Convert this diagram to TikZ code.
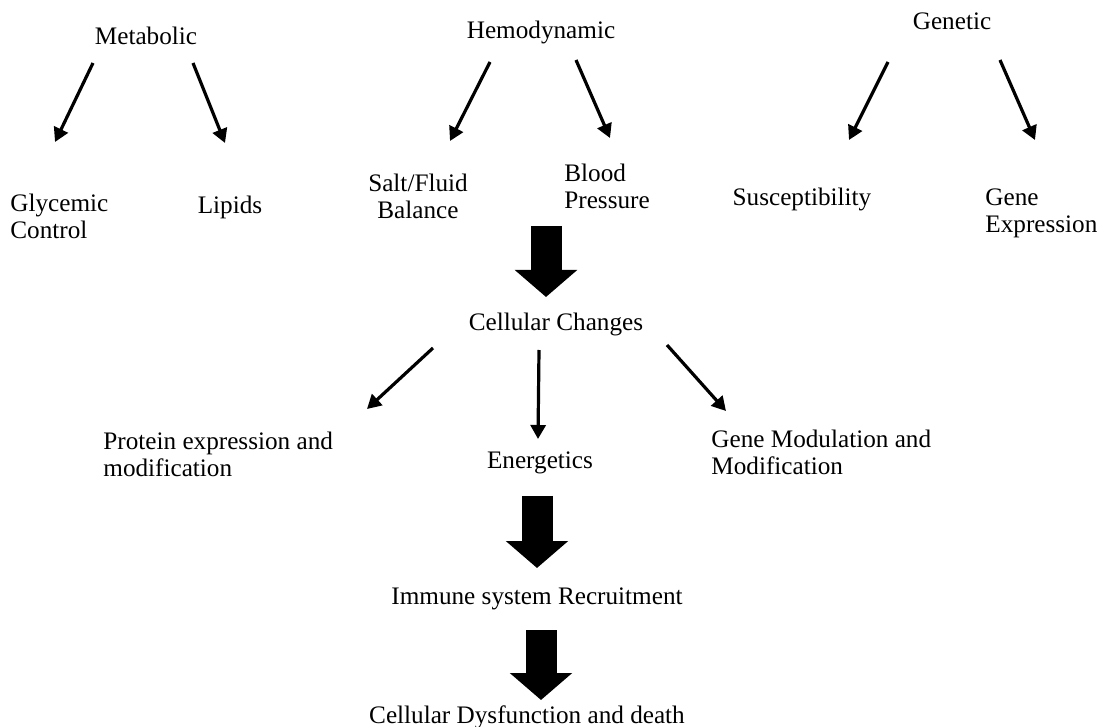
\documentclass[tikz,border=0pt]{standalone}
\usepackage{fontspec}
\setmainfont{Liberation Serif}
\usetikzlibrary{arrows.meta}

\begin{document}
\begin{tikzpicture}[x=0.5pt,y=-0.5pt]
\tikzset{lien/.style={-{Triangle[length=7pt,width=7.5pt]},line width=1.6pt},
gros/.style={line width=15.5pt,-{Triangle[length=13.5pt,width=30.5pt]}},
texte/.style={inner sep=0pt,yshift=-1.5pt,font=\fontsize{12.6}{13.5}\selectfont},
gauche/.style={texte,align=left,anchor=west},
centre/.style={texte,align=center}}
\useasboundingbox (0,0) rectangle (1099,727);

% causes
\node[centre] (met) at (146,33){Metabolic};
\node[centre] (hemo) at (541,29){Hemodynamic};
\node[centre] (gen) at (952,18){Genetic};

\node[gauche] (gly) at (10,213){Glycemic\\Control};
\node[centre] (lip) at (230,204){Lipids};
\node[centre] (salt) at (418,193){Salt/Fluid\\Balance};
\node[gauche] (bp) at (564,183){Blood\\Pressure};
\node[centre] (sus) at (802,196){Susceptibility};
\node[gauche] (gex) at (985,210){Gene\\Expression};

% changes
\node[centre] (cell) at (556,321){Cellular Changes};
\node[gauche] (prot) at (103,451){Protein expression and\\modification};
\node[centre] (ener) at (540,460){Energetics};
\node[gauche] (gmod) at (711,449){Gene Modulation and\\Modification};
\node[centre] (imm) at (537,596){Immune system Recruitment};
\node[centre] (dys) at (527,714){Cellular Dysfunction and death};

% bouts des fleches
\coordinate (m1) at (93,63);  \coordinate (m1b) at (55,142);
\coordinate (m2) at (193,63); \coordinate (m2b) at (225,143);
\coordinate (h1) at (490,62); \coordinate (h1b) at (450,141);
\coordinate (h2) at (576,60); \coordinate (h2b) at (610,138);
\coordinate (g1) at (888,62); \coordinate (g1b) at (849,140);
\coordinate (g2) at (1000,60); \coordinate (g2b) at (1035,140);
\coordinate (c1) at (433,348); \coordinate (c1b) at (367,409);
\coordinate (c2) at (539,350); \coordinate (c2b) at (538,439);
\coordinate (c3) at (667,345); \coordinate (c3b) at (726,411);

\draw[lien] (m1) -- (m1b);
\draw[lien] (m2) -- (m2b);
\draw[lien] (h1) -- (h1b);
\draw[lien] (h2) -- (h2b);
\draw[lien] (g1) -- (g1b);
\draw[lien] (g2) -- (g2b);
\draw[lien] (c1) -- (c1b);
\draw[lien] (c2) -- (c2b);
\draw[lien] (c3) -- (c3b);

% grosses fleches
\coordinate (b1) at (546,226); \coordinate (b1b) at (546,297);
\coordinate (b2) at (537,496); \coordinate (b2b) at (537,568);
\coordinate (b3) at (541,630); \coordinate (b3b) at (541,700);
\draw[gros] (b1) -- (b1b);
\draw[gros] (b2) -- (b2b);
\draw[gros] (b3) -- (b3b);

\end{tikzpicture}
\end{document}
